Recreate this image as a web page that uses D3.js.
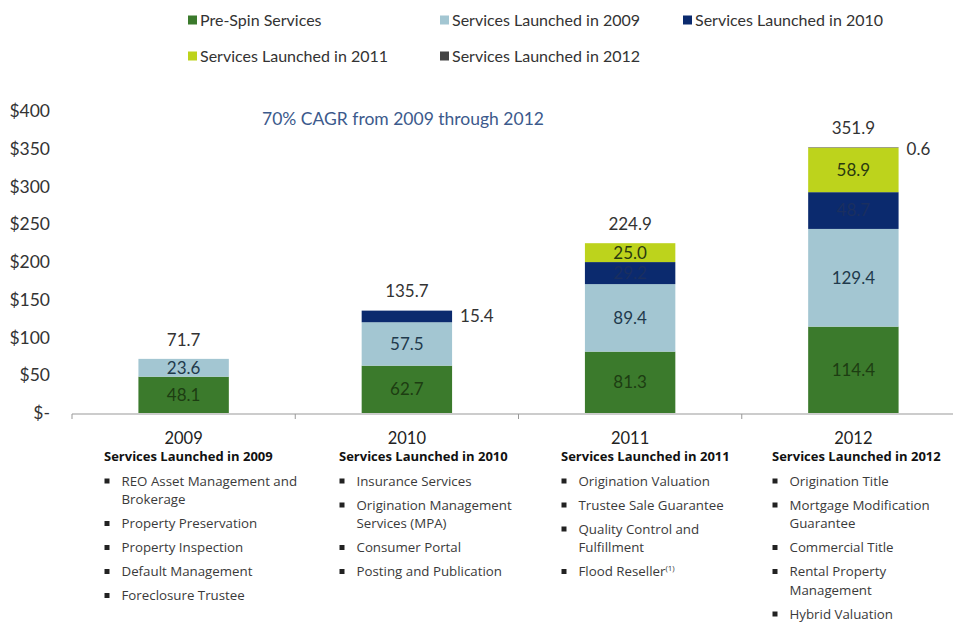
<!DOCTYPE html>
<html><head><meta charset="utf-8">
<script src="https://cdn.jsdelivr.net/npm/d3@7"></script>
<style>body{margin:0;background:#fff}svg{display:block;font-family:Lato,"Open Sans",sans-serif}</style>
</head><body><svg id="c" width="953" height="624"></svg>
<script>
const years = ["2009","2010","2011","2012"];
const seriesNames = ["Pre-Spin Services","Services Launched in 2009","Services Launched in 2010","Services Launched in 2011","Services Launched in 2012"];
const preSpin = [48.1, 62.7, 81.3, 114.4];
const launched2009 = [23.6, 57.5, 89.4, 129.4];
const launched2010 = [0, 15.4, 29.2, 48.7];
const launched2011 = [0, 0, 25.0, 58.9];
const launched2012 = [0, 0, 0, 0.6];
const totals = [71.7, 135.7, 224.9, 351.9];
const yTicks = [0, 50, 100, 150, 200, 250, 300, 350, 400];
const colors = ["#3b7a2c","#a3c6d2","#0b2a6e","#bdd31c","#444444"];
const labelColors = ["#1d3d12","#1f3a4c","#1a2f60","#2a3a10","#333"];
const annotation = "70% CAGR from 2009 through 2012";
const headers = ["Services Launched in 2009","Services Launched in 2010","Services Launched in 2011","Services Launched in 2012"];
const serviceLists = [
  [["REO Asset Management and","Brokerage"],["Property Preservation"],["Property Inspection"],["Default Management"],["Foreclosure Trustee"]],
  [["Insurance Services"],["Origination Management","Services (MPA)"],["Consumer Portal"],["Posting and Publication"]],
  [["Origination Valuation"],["Trustee Sale Guarantee"],["Quality Control and","Fulfillment"],["Flood Reseller^(1)"]],
  [["Origination Title"],["Mortgage Modification","Guarantee"],["Commercial Title"],["Rental Property","Management"],["Hybrid Valuation"]]
];

const svg = d3.select("#c");
const data = years.map((y,i)=>({year:y, s0:preSpin[i], s1:launched2009[i], s2:launched2010[i], s3:launched2011[i], s4:launched2012[i]}));
const keys = ["s0","s1","s2","s3","s4"];
const stack = d3.stack().keys(keys)(data);

const x = d3.scaleBand().domain(years).range([72, 965]).paddingInner(0.595).paddingOuter(0.2975);
const y = d3.scaleLinear().domain([0, 400]).range([413, 111]);

// y labels
svg.append("g").selectAll("text").data(yTicks).join("text")
  .attr("x", 50).attr("y", d=>y(d)).attr("dy","0.35em").attr("text-anchor","end")
  .attr("font-size", 17.5).attr("fill","#333")
  .text(d=> d===0 ? "$-" : "$"+d);

// bars
const g = svg.append("g");
stack.forEach((layer, li)=>{
  g.append("g").attr("fill", colors[li]).selectAll("rect").data(layer.filter(d=>d[1]-d[0]>0)).join("rect")
    .attr("x", d=>x(d.data.year)).attr("width", x.bandwidth())
    .attr("y", d=>y(d[1])).attr("height", d=>y(d[0])-y(d[1]));
});

// segment labels
stack.forEach((layer, li)=>{
  layer.forEach((d,i)=>{
    const v = d[1]-d[0];
    if (v<=0) return;
    const outside = v < 20;
    svg.append("text")
      .attr("x", outside ? x(d.data.year)+x.bandwidth()+8 : x(d.data.year)+x.bandwidth()/2)
      .attr("y", y((d[0]+d[1])/2) + (outside && v<2 ? 2 : 0)).attr("dy","0.35em")
      .attr("text-anchor", outside ? "start" : "middle")
      .attr("font-size", 17)
      .attr("fill", outside ? "#333" : labelColors[li])
      .text(v.toFixed(1));
  });
});

// totals
svg.append("g").selectAll("text").data(data).join("text")
  .attr("x", d=>x(d.year)+x.bandwidth()/2).attr("y", (d,i)=>y(totals[i])-19).attr("dy","0.35em")
  .attr("text-anchor","middle").attr("font-size",17).attr("fill","#333")
  .text((d,i)=>totals[i].toFixed(1));

// x axis
const ax = svg.append("g").attr("transform","translate(0,414)");
ax.append("line").attr("x1",72).attr("x2",953).attr("stroke","#999").attr("stroke-width",1);
const bounds = [72].concat(years.slice(1).map(yr=>x(yr)-(x.step()-x.bandwidth())/2));
ax.selectAll("line.tk").data(bounds).join("line").attr("class","tk")
  .attr("x1",d=>d).attr("x2",d=>d).attr("y1",0).attr("y2",5).attr("stroke","#999");

// year labels
svg.append("g").selectAll("text").data(years).join("text")
  .attr("x", d=>x(d)+x.bandwidth()/2).attr("y", 438).attr("dy","0.35em")
  .attr("text-anchor","middle").attr("font-size",16.5).attr("fill","#222").text(d=>d);

// annotation
svg.append("text").attr("x",262).attr("y",119).attr("dy","0.35em")
  .attr("font-size",17.5).attr("fill","#3c5a8c").text(annotation);

// legend
const legendPos = [[188,20],[440,20],[683,20],[188,56],[440,56]];
seriesNames.forEach((n,i)=>{
  const [lx,ly] = legendPos[i];
  svg.append("rect").attr("x",lx).attr("y",ly-4.5).attr("width",9).attr("height",9).attr("fill",colors[i]);
  svg.append("text").attr("x",lx+12).attr("y",ly).attr("dy","0.35em").attr("font-size",16).attr("fill","#333").text(n);
});

// service lists
const bulletX = [107, 342, 564, 775];
headers.forEach((h,ci)=>{
  svg.append("text").attr("x",bulletX[ci]-3).attr("y",456).attr("dy","0.35em")
    .attr("font-family","'Open Sans',sans-serif")
    .attr("font-size",13).attr("font-weight","bold").attr("fill","#111").text(h);
  let cy = 481;
  serviceLists[ci].forEach(item=>{
    svg.append("rect").attr("x",bulletX[ci]-2.5).attr("y",cy-2.5).attr("width",5).attr("height",5).attr("fill","#222");
    item.forEach((line,li)=>{
      const t = svg.append("text").attr("x",bulletX[ci]+14.5).attr("y",cy+li*18.5).attr("dy","0.35em")
        .attr("font-family","'Open Sans',sans-serif")
        .attr("font-size",13.3).attr("fill","#3a3a3a");
      if (line.includes("^")) {
        const [a,b] = line.split("^");
        t.append("tspan").text(a);
        t.append("tspan").attr("font-size",8).attr("dy","-0.6em").text(b);
      } else t.text(line);
    });
    cy += (item.length-1)*18.5 + 24;
  });
});
</script></body></html>
